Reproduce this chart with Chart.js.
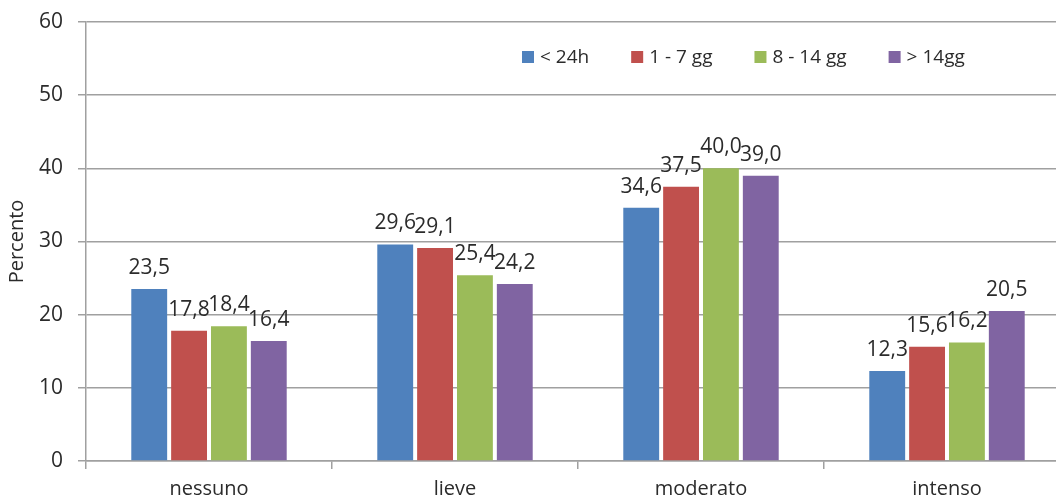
<!DOCTYPE html>
<html lang="it">
<head>
<meta charset="utf-8">
<title>Percento per categoria</title>
<script src="https://cdn.jsdelivr.net/npm/chart.js@4/dist/chart.umd.min.js"></script>
<style>
  html, body { margin: 0; padding: 0; background: #ffffff; overflow: hidden; }
  #wrap { width: 1056px; height: 499px; overflow: hidden; position: relative; }
  canvas { display: block; }
</style>
</head>
<body>
<div id="wrap"><canvas id="chart" width="1070" height="499"></canvas></div>
<script>
// Categorie e serie
const categories = ['nessuno', 'lieve', 'moderato', 'intenso'];
const seriesNames = ['< 24h', '1 - 7 gg', '8 - 14 gg', '> 14gg'];
const lessThan24h = [23.5, 29.6, 34.6, 12.3];
const days1to7 = [17.8, 29.1, 37.5, 15.6];
const days8to14 = [18.4, 25.4, 40.0, 16.2];
const moreThan14 = [16.4, 24.2, 39.0, 20.5];
const yTicks = [0, 10, 20, 30, 40, 50, 60];

const seriesValues = [lessThan24h, days1to7, days8to14, moreThan14];
const seriesColors = ['#4F81BD', '#C0504D', '#9BBB59', '#8064A2'];

const FONT = "'Open Sans', 'DejaVu Sans', sans-serif";
const TEXT = '#2b2b2b';
const GRID = '#a0a0a0';

// Etichette dei valori sopra ogni barra (virgola decimale)
const valueLabels = {
  id: 'valueLabels',
  afterDatasetsDraw(chart, args, opts) {
    const ctx = chart.ctx;
    ctx.save();
    ctx.font = opts.size + 'px ' + FONT;
    ctx.fillStyle = TEXT;
    ctx.textAlign = 'center';
    ctx.textBaseline = 'alphabetic';
    chart.data.datasets.forEach((ds, i) => {
      const meta = chart.getDatasetMeta(i);
      meta.data.forEach((bar, j) => {
        const txt = ds.data[j].toFixed(1).replace('.', ',');
        ctx.fillText(txt, bar.x, bar.y - opts.gap);
      });
    });
    ctx.restore();
  }
};

// Legenda disegnata dentro l'area del grafico
const insideLegend = {
  id: 'insideLegend',
  afterDraw(chart, args, opts) {
    const ctx = chart.ctx;
    ctx.save();
    ctx.font = opts.size + 'px ' + FONT;
    ctx.textBaseline = 'middle';
    ctx.textAlign = 'left';
    let x = opts.x;
    chart.data.datasets.forEach(ds => {
      ctx.fillStyle = ds.backgroundColor;
      ctx.fillRect(x, opts.y - opts.box / 2, opts.box, opts.box);
      x += opts.box + opts.gap;
      ctx.fillStyle = TEXT;
      ctx.fillText(ds.label, x, opts.y + 1);
      x += ctx.measureText(ds.label).width + opts.spacing;
    });
    ctx.restore();
  }
};

const datasets = seriesNames.map((name, i) => ({
  label: name,
  data: seriesValues[i],
  backgroundColor: seriesColors[i],
  borderWidth: 0,
  categoryPercentage: 0.648,
  barPercentage: 0.9
}));

new Chart(document.getElementById('chart'), {
  type: 'bar',
  data: { labels: categories, datasets },
  options: {
    responsive: false,
    animation: false,
    layout: { padding: { top: 22, right: 0, bottom: 0, left: 0 } },
    plugins: {
      legend: { display: false },
      tooltip: { enabled: false },
      valueLabels: { size: 21, gap: 15 },
      insideLegend: { x: 522, y: 57, box: 12, gap: 6, spacing: 42, size: 19 }
    },
    scales: {
      x: {
        afterFit(scale) { scale.height = 38; },
        grid: {
          display: true,
          drawOnChartArea: false,
          drawTicks: true,
          tickLength: 8,
          color: GRID,
          lineWidth: 1.5,
          offset: true
        },
        border: { display: true, color: GRID, width: 1.5 },
        ticks: {
          color: TEXT,
          font: { family: FONT, size: 20 },
          padding: 8,
          maxRotation: 0
        }
      },
      y: {
        min: yTicks[0],
        max: yTicks[yTicks.length - 1],
        afterFit(scale) { scale.width = 86; },
        afterBuildTicks(scale) { scale.ticks = yTicks.map(v => ({ value: v })); },
        grid: {
          color: GRID,
          lineWidth: 1.5,
          drawTicks: true,
          tickLength: 8
        },
        border: { display: true, color: GRID, width: 1.5 },
        ticks: {
          color: TEXT,
          // a compact line height keeps the top label from pushing the plot down
          font: { family: FONT, size: 21, lineHeight: 0.6 },
          padding: 15
        },
        title: {
          display: true,
          text: 'Percento',
          color: TEXT,
          font: { family: FONT, size: 20 },
          padding: { top: 5, bottom: 4 }
        }
      }
    }
  },
  plugins: [valueLabels, insideLegend]
});
</script>
</body>
</html>
